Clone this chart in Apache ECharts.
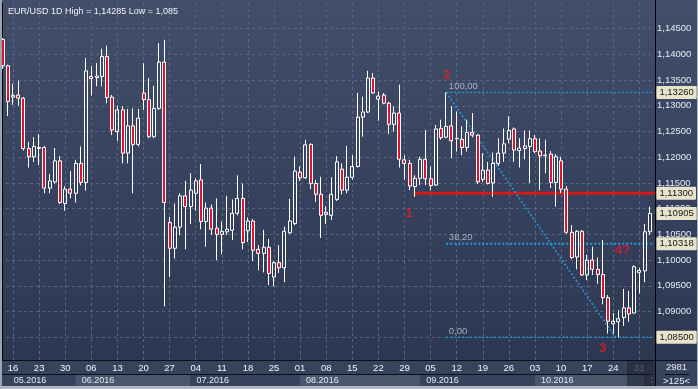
<!DOCTYPE html>
<html><head><meta charset="utf-8">
<script src="https://cdn.jsdelivr.net/npm/echarts@6/dist/echarts.min.js"></script>
<style>
html,body{margin:0;padding:0;background:#2c3651;}
#main{width:698px;height:389px;background:linear-gradient(to bottom,#434f6a 0%,#36425d 50%,#2b3550 100%);}
</style>
</head><body><div id="main"></div>
<script>
// ---- DATA ----
const titleText = 'EUR/USD 1D High = 1,14285 Low = 1,085';
const dates = [
'2016-05-12','2016-05-13','2016-05-16','2016-05-17','2016-05-18','2016-05-19','2016-05-20','2016-05-23','2016-05-24','2016-05-25','2016-05-26','2016-05-27','2016-05-30','2016-05-31',
'2016-06-01','2016-06-02','2016-06-03','2016-06-06','2016-06-07','2016-06-08','2016-06-09','2016-06-10','2016-06-13','2016-06-14','2016-06-15','2016-06-16','2016-06-17','2016-06-20','2016-06-21','2016-06-22','2016-06-23','2016-06-24','2016-06-27','2016-06-28','2016-06-29','2016-06-30',
'2016-07-01','2016-07-04','2016-07-05','2016-07-06','2016-07-07','2016-07-08','2016-07-11','2016-07-12','2016-07-13','2016-07-14','2016-07-15','2016-07-18','2016-07-19','2016-07-20','2016-07-21','2016-07-22','2016-07-25','2016-07-26','2016-07-27','2016-07-28','2016-07-29',
'2016-08-01','2016-08-02','2016-08-03','2016-08-04','2016-08-05','2016-08-08','2016-08-09','2016-08-10','2016-08-11','2016-08-12','2016-08-15','2016-08-16','2016-08-17','2016-08-18','2016-08-19','2016-08-22','2016-08-23','2016-08-24','2016-08-25','2016-08-26','2016-08-29','2016-08-30','2016-08-31',
'2016-09-01','2016-09-02','2016-09-05','2016-09-06','2016-09-07','2016-09-08','2016-09-09','2016-09-12','2016-09-13','2016-09-14','2016-09-15','2016-09-16','2016-09-19','2016-09-20','2016-09-21','2016-09-22','2016-09-23','2016-09-26','2016-09-27','2016-09-28','2016-09-29','2016-09-30',
'2016-10-03','2016-10-04','2016-10-05','2016-10-06','2016-10-07','2016-10-10','2016-10-11','2016-10-12','2016-10-13','2016-10-14','2016-10-17','2016-10-18','2016-10-19','2016-10-20','2016-10-21','2016-10-24','2016-10-25','2016-10-26','2016-10-27','2016-10-28','2016-10-31',
'2016-11-01','2016-11-02'
];
const open = [
1.1429,1.1378,1.1317,1.1321,1.1315,1.1217,1.1201,1.1217,1.1219,1.1140,1.1152,1.1193,1.1110,1.1138,
1.1130,1.1188,1.1151,1.1357,1.1355,1.1357,1.1396,1.1317,1.1250,1.1292,1.1208,1.1261,1.1225,1.1325,1.1312,1.1240,1.1295,1.1385,1.1073,1.1023,1.1064,1.1125,
1.1104,1.1130,1.1156,1.1075,1.1101,1.1062,1.1050,1.1055,1.1058,1.1091,1.1120,1.1057,1.1076,1.1021,1.1013,1.1025,1.0967,1.0995,1.0985,1.1053,1.1071,
1.1171,1.1160,1.1225,1.1149,1.1128,1.1089,1.1087,1.1118,1.1177,1.1136,1.1161,1.1182,1.1278,1.1288,1.1354,1.1313,1.1321,1.1305,1.1264,1.1286,1.1195,1.1188,1.1143,
1.1159,1.1196,1.1158,1.1146,1.1256,1.1239,1.1261,1.1236,1.1235,1.1219,1.1248,1.1243,1.1157,1.1175,1.1150,1.1188,1.1208,1.1235,1.1255,1.1213,1.1217,1.1221,
1.1236,1.1212,1.1203,1.1206,1.1151,1.1193,1.1138,1.1054,1.1006,1.1056,1.0971,1.1000,1.0982,1.0972,1.0927,1.0876,1.0880,1.0888,1.0907,1.0897,1.0976,
1.0979,1.1055
];
const high = [
1.1432,1.1380,1.1343,1.1349,1.1317,1.1230,1.1239,1.1245,1.1222,1.1167,1.1218,1.1202,1.1144,1.1173,
1.1195,1.1221,1.1393,1.1377,1.1383,1.1411,1.1417,1.1321,1.1300,1.1299,1.1294,1.1295,1.1294,1.1383,1.1354,1.1339,1.1422,1.14285,1.1084,1.1110,1.1130,1.1154,
1.1169,1.1159,1.1187,1.1112,1.1108,1.1120,1.1075,1.1125,1.1118,1.1165,1.1149,1.1083,1.1080,1.1029,1.1059,1.1041,1.0998,1.1029,1.1065,1.1119,1.1201,
1.1182,1.1234,1.1227,1.1156,1.1162,1.1105,1.1161,1.1202,1.1188,1.1222,1.1204,1.1325,1.1318,1.1368,1.1364,1.1328,1.1325,1.1308,1.1299,1.1341,1.1204,1.1195,1.1165,
1.1201,1.1253,1.1182,1.1263,1.1273,1.1326,1.1299,1.1289,1.1260,1.1273,1.1286,1.1245,1.1208,1.1191,1.1209,1.1237,1.1256,1.1280,1.1258,1.1237,1.1252,1.1252,
1.1243,1.1237,1.1234,1.1212,1.1206,1.1201,1.1144,1.1068,1.1058,1.1058,1.1010,1.1026,1.1005,1.1039,1.0932,1.0897,1.0903,1.0944,1.0940,1.0990,1.0985,
1.1070,1.1104
];
const low = [
1.1372,1.1280,1.1302,1.1300,1.1213,1.1180,1.1191,1.1185,1.1130,1.1130,1.1149,1.1109,1.1096,1.1120,
1.1112,1.1145,1.1135,1.1320,1.1338,1.1338,1.1305,1.1243,1.1232,1.1188,1.1188,1.1130,1.1221,1.1292,1.1237,1.1237,1.1292,1.0910,1.0967,1.1003,1.1048,1.1021,
1.1070,1.1096,1.1060,1.1026,1.1049,1.1000,1.1011,1.1049,1.1039,1.1087,1.1021,1.1035,1.0998,1.0980,1.0976,1.0951,1.0949,1.0975,1.0957,1.1051,1.1068,
1.1154,1.1158,1.1138,1.1113,1.1043,1.1070,1.1078,1.1115,1.1128,1.1130,1.1156,1.1180,1.1240,1.1286,1.1323,1.1271,1.1303,1.1245,1.1250,1.1180,1.1156,1.1136,1.1123,
1.1146,1.1146,1.1136,1.1144,1.1234,1.1237,1.1198,1.1211,1.1204,1.1211,1.1239,1.1148,1.1152,1.1147,1.1123,1.1183,1.1191,1.1227,1.1191,1.1180,1.1196,1.1150,
1.1208,1.1136,1.1169,1.1140,1.1104,1.1130,1.1051,1.1002,1.0982,1.0969,1.0961,1.0971,1.0954,1.0914,1.0857,1.0857,1.0850,1.0872,1.0880,1.0896,1.0935,
1.0957,1.1049
];
const close = [
1.1378,1.1308,1.1320,1.1315,1.1217,1.1201,1.1221,1.1219,1.1140,1.1154,1.1193,1.1112,1.1138,1.1130,
1.1188,1.1151,1.1368,1.1353,1.1358,1.1396,1.1316,1.1253,1.1292,1.1208,1.1261,1.1225,1.1276,1.1312,1.1240,1.1295,1.1385,1.1112,1.1023,1.1064,1.1125,1.1104,
1.1136,1.1154,1.1075,1.1101,1.1060,1.1050,1.1056,1.1060,1.1091,1.1120,1.1034,1.1076,1.1019,1.1013,1.1025,1.0974,1.0995,1.0985,1.1056,1.1076,1.1173,
1.1160,1.1224,1.1149,1.1128,1.1087,1.1093,1.1128,1.1191,1.1136,1.1161,1.1182,1.1278,1.1288,1.1354,1.1325,1.1319,1.1305,1.1264,1.1286,1.1196,1.1188,1.1144,1.1159,
1.1196,1.1158,1.1145,1.1255,1.1238,1.1260,1.1232,1.1237,1.1219,1.1248,1.1243,1.1152,1.1175,1.1149,1.1188,1.1208,1.1226,1.1252,1.1214,1.1218,1.1222,1.1236,
1.1211,1.1203,1.1204,1.1151,1.1201,1.1138,1.1054,1.1005,1.1056,1.0971,1.1000,1.0982,1.0972,1.0927,1.0881,1.0881,1.0886,1.0907,1.0895,1.0987,1.0980,
1.1055,1.10905
];
// annotations (x = bar index, y = price)
const supportLine = [[79, 1.1130], [125, 1.1130]];
const fibStartIdx = 85;
const fibLevels = [1.1326, 1.10318, 1.0850];
const fibNames = ['100,00', '38,20', '0,00'];
const fibDiagonal = [[85, 1.1326], [117.4, 1.0850]];
const waveLabels = [[85.1, 1.1360, '2'], [77.9, 1.1091, '1'], [115.0, 1.0828, '3'], [118.8, 1.1018, '4?']];
const priceTags = [1.1326, 1.1130, 1.10905, 1.10318, 1.0850];
const barCountText = '2981';
const zoomText = '>125<';

// ---- derived helpers ----
const isMonday = dates.map(d => new Date(d + 'T00:00:00Z').getUTCDay() === 1);
const isMonthStart = dates.map((d, i) => i > 0 && d.slice(5, 7) !== dates[i - 1].slice(5, 7));
const monthLabelIdx = dates.map((d, i) => i === 1 || isMonthStart[i]);
const fmtPrice = v => Number(v).toFixed(5).replace('.', ',');
const FONT = 'Liberation Sans, Arial, sans-serif';
const LAST = dates.length - 1;

const chart = echarts.init(document.getElementById('main'), null, {renderer: 'canvas'});

const fibSeries = fibLevels.map((lv, k) => ({
  type: 'line', xAxisIndex: 1, yAxisIndex: 0, clip: false, symbol: 'none', silent: true, z: 1,
  data: [[fibStartIdx, lv], [125, lv]],
  lineStyle: {color: '#1f9ee0', width: k === 1 ? 2 : 1.3, type: [2, 2]}
}));

chart.setOption({
  animation: false,
  textStyle: {fontFamily: FONT},
  title: {text: titleText, left: 3, top: 2, textStyle: {color: '#eef2f8', fontSize: 9, fontWeight: 'normal', fontFamily: FONT}},
  grid: [
    {left: 0, right: 45.6, top: 3, bottom: 26.1, outerBoundsMode: 'none'},
    {left: 0, right: 45.6, top: 360, height: 14, show: true, backgroundColor: '#37435c', borderWidth: 0, z: 1, outerBoundsMode: 'none'},
    {left: 0, right: 45.6, top: 374, height: 12, show: true, backgroundColor: '#37435c', borderWidth: 0, z: 1, outerBoundsMode: 'none'}
  ],
  xAxis: [
    {type: 'category', gridIndex: 0, data: dates, boundaryGap: true,
     axisLine: {show: false}, axisTick: {show: false}, axisLabel: {show: false},
     splitLine: {show: true, alignWithLabel: true, interval: (i) => isMonday[i], lineStyle: {color: '#586580', width: 1, type: [3, 3]}}},
    {type: 'value', gridIndex: 0, min: -0.5, max: 124.5, show: false},
    {type: 'category', gridIndex: 1, data: dates, position: 'top', z: 2,
     axisLine: {show: true, lineStyle: {color: '#0b0e16', width: 1}}, axisTick: {show: false},
     axisLabel: {inside: true, margin: 3, interval: (i) => isMonday[i], color: '#f2f5fa', fontSize: 9.5, verticalAlign: 'top',
       formatter: (v, i) => (i === 122 ? '{dim|' + v.slice(8, 10) + '}' : v.slice(8, 10)),
       rich: {dim: {color: '#8f98a8', fontSize: 9.5}}},
     splitLine: {show: false}},
    {type: 'category', gridIndex: 2, data: dates, position: 'top', z: 2,
     axisLine: {show: false}, axisTick: {show: false},
     axisLabel: {inside: true, margin: 2, interval: (i) => monthLabelIdx[i], color: '#e4e9f2', fontSize: 9, align: 'left', verticalAlign: 'top',
       padding: [0, 0, 0, 6], formatter: v => v.slice(5, 7) + '.' + v.slice(0, 4)},
     splitArea: {show: true, alignWithLabel: true, interval: (i) => isMonthStart[i] || i === LAST,
       areaStyle: {color: ['#4a566e', '#37435c']}},
     splitLine: {show: false}}
  ],
  yAxis: [
    {type: 'value', gridIndex: 0, position: 'right', offset: 2.6, min: 1.08, max: 1.15, interval: 0.005, scale: true,
     axisLine: {show: true, lineStyle: {color: '#000000', width: 1}}, axisTick: {show: false},
     axisLabel: {color: '#e6ebf4', fontSize: 9.5, margin: 2, showMinLabel: false, showMaxLabel: false, formatter: fmtPrice},
     splitLine: {show: true, showMinLine: false, showMaxLine: false, lineStyle: {color: '#586580', width: 1, type: [3, 3]}}},
    {type: 'value', gridIndex: 1, show: false},
    {type: 'value', gridIndex: 2, show: false}
  ],
  series: [
    {type: 'candlestick', xAxisIndex: 0, yAxisIndex: 0, z: 2, barWidth: 3.5,
     data: dates.map((d, i) => [open[i], close[i], low[i], high[i]]),
     itemStyle: {color: 'rgba(0,0,0,0)', color0: '#e3112c', borderColor: '#ffffff', borderColor0: '#ffffff', borderWidth: 1},
     markLine: {silent: true, symbol: ['none', 'none'], animation: false, precision: 6,
       lineStyle: {color: 'rgba(0,0,0,0)', width: 0},
       label: {show: true, position: 'end', distance: 4, formatter: p => fmtPrice(p.value),
         backgroundColor: '#e7e4cb', color: '#141414', fontSize: 9.5, padding: [2, 3, 1, 3], borderRadius: 1, fontFamily: FONT},
       data: priceTags.map(v => ({yAxis: v}))}},
    {type: 'line', xAxisIndex: 1, yAxisIndex: 0, clip: false, symbol: 'none', silent: true, z: 1,
     data: supportLine, lineStyle: {color: '#d51818', width: 3}},
    ...fibSeries,
    {type: 'line', xAxisIndex: 1, yAxisIndex: 0, symbol: 'none', silent: true, z: 1,
     data: fibDiagonal, lineStyle: {color: '#1f9ee0', width: 1.5, type: [2, 2]}},
    {type: 'scatter', xAxisIndex: 1, yAxisIndex: 0, symbolSize: 0, silent: true, z: 3,
     data: fibLevels.map((lv, k) => [fibStartIdx + 0.5, lv, fibNames[k]]),
     label: {show: true, position: 'top', distance: 1, align: 'left', color: '#c3cad7', fontSize: 9.5, formatter: p => p.value[2]}},
    {type: 'scatter', xAxisIndex: 1, yAxisIndex: 0, symbolSize: 0, silent: true, z: 3,
     data: waveLabels,
     label: {show: true, position: 'inside', color: '#ec1c24', fontSize: 13, fontWeight: 'bold', formatter: p => p.value[2]}}
  ],
  graphic: [
    {type: 'rect', z: 10, shape: {x: 652.4, y: 360, width: 46, height: 26}, style: {fill: '#37435c'}},
    {type: 'rect', z: 10, shape: {x: 627, y: 360.5, width: 28, height: 26}, style: {fill: 'rgba(20,26,40,0.45)'}},
    {type: 'line', z: 11, shape: {x1: 0, y1: 360.5, x2: 698, y2: 360.5}, style: {stroke: '#0b0e16', lineWidth: 1}},
    {type: 'line', z: 11, shape: {x1: 655.5, y1: 0, x2: 655.5, y2: 386}, style: {stroke: '#000000', lineWidth: 1}},
    {type: 'text', z: 12, style: {text: barCountText, x: 676.5, y: 367.5, align: 'center', verticalAlign: 'middle', fill: '#e6ebf4', fontSize: 9.5, fontFamily: FONT}},
    {type: 'line', z: 12, shape: {x1: 665, y1: 374.5, x2: 689, y2: 374.5}, style: {stroke: '#0b0e16', lineWidth: 1}},
    {type: 'text', z: 12, style: {text: zoomText, x: 676.5, y: 381, align: 'center', verticalAlign: 'middle', fill: '#e6ebf4', fontSize: 9.5, fontFamily: FONT}},
    {type: 'rect', z: 20, shape: {x: 0, y: 0, width: 2, height: 389}, style: {fill: '#9aa4b4'}},
    {type: 'rect', z: 20, shape: {x: 0, y: 386, width: 698, height: 3}, style: {fill: '#aeb6c2'}},
    {type: 'rect', z: 20, shape: {x: 697, y: 0, width: 1, height: 389}, style: {fill: '#aeb6c2'}}
  ]
});
</script></body></html>
